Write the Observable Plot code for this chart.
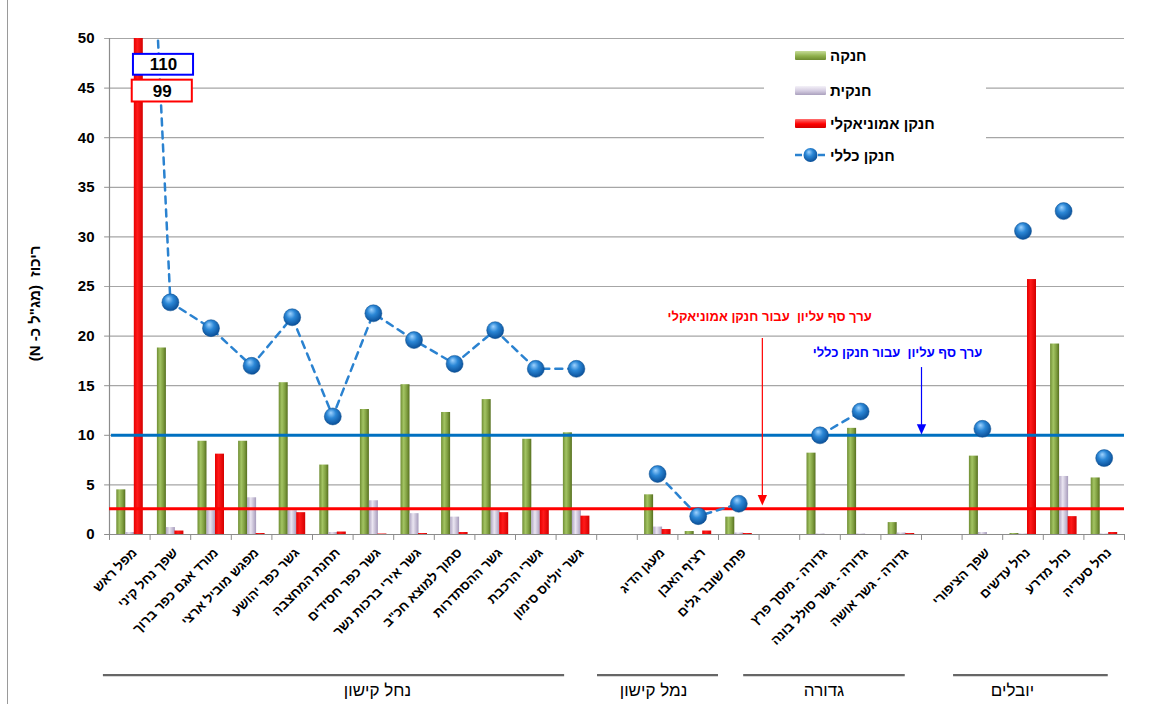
<!DOCTYPE html>
<html><head><meta charset="utf-8">
<script src="https://cdn.jsdelivr.net/npm/d3@7"></script>
<script src="https://cdn.jsdelivr.net/npm/@observablehq/plot@0.6"></script>
<style>
body{margin:0;background:#fff;}
#wrap{position:relative;width:1154px;height:704px;overflow:hidden;font-family:"Liberation Sans",Arial,"DejaVu Sans",sans-serif;background:#fff;}
#wrap svg{position:absolute;left:0;top:0;}
#frameL{position:absolute;left:7px;top:0;width:1px;height:704px;background:#9a9a9a;}
#legend{position:absolute;left:764px;top:42px;width:222px;height:130px;background:#fff;}
.li{position:absolute;left:31px;height:22px;display:flex;align-items:center;font-weight:bold;font-size:15px;color:#000;white-space:nowrap;}
.sw{width:31px;height:9px;margin-right:4px;border-radius:1px;}
</style></head><body><div id="wrap"><div id="frameL"></div></div>
<script>
// ---- data ----
const categories = ["מפל ראש","שפך נחל קיני","מורד אגם כפר ברוך","מפגש מוביל ארצי","גשר כפר יהושע","תחנת המחצבה","גשר כפר חסידים","גשר אירי ברכות נשר","סמוך למוצא חכ\"ב","גשר ההסתדרות","גשרי הרכבת","גשר יוליוס סימון","","מעגן הדיג","רציף האבן","פתח שובר גלים","","גדורה - מוסך פרץ","גדורה - גשר סולל בונה","גדורה - גשר אושה","","שפך הציפורי","נחל עדשים","נחל מדרע","נחל סעדיה"];
const nitrate  = [4.5,18.8,9.4,9.4,15.3,7.0,12.6,15.1,12.3,13.6,9.6,10.25,null,4.0,0.3,1.75,null,8.2,10.7,1.2,null,7.9,0.1,19.2,5.7];
const nitrite  = [0.2,0.7,2.4,3.7,2.4,0.2,3.4,2.1,1.75,2.4,2.4,2.4,null,0.75,0,0.15,null,0.05,0.05,0.15,null,0.2,0.05,5.85,0.05];
const ammonia  = [99,0.35,8.1,0.1,2.2,0.25,0.05,0.1,0.2,2.2,2.5,1.85,null,0.5,0.35,0.1,null,0,0,0.1,null,0,25.7,1.8,0.2];
const totalN   = [110,23.4,20.8,17.0,21.9,11.9,22.3,19.6,17.2,20.6,16.7,16.7,null,6.1,1.85,3.1,null,10.0,12.4,null,null,10.65,30.6,32.6,7.7];
const seriesNames = ["חנקה","חנקית","חנקן אמוניאקלי","חנקן כללי"];
const yTicks = [0,5,10,15,20,25,30,35,40,45,50];
const thresholdTotal = 10;
const thresholdAmmonia = 2.6;
const groups = [
  {name:"נחל קישון", first:0, last:11, connected:true},
  {name:"נמל קישון", first:13, last:15, connected:true},
  {name:"גדורה", first:17, last:19, connected:true},
  {name:"יובלים", first:21, last:24, connected:false}
];
const yTitle = "ריכוז  (מג\"ל כ- N)";
const redNote = "ערך סף עליון  עבור חנקן אמוניאקלי";
const blueNote = "ערך סף עליון  עבור חנקן כללי";

// ---- layout helpers (slot units) ----
const groupLines = [{from:-0.15,to:11.21,label:6.6},{from:12.02,to:15.0,label:13.4},{from:15.62,to:19.6,label:17.6},{from:20.79,to:24.6,label:22.24}];
const n = categories.length;
const idx = d3.range(n);
const has = a => idx.filter(i => a[i] != null);
const lineData = groups.filter(g => g.connected).flatMap(g =>
  d3.range(g.first, g.last + 1).filter(i => totalN[i] != null).map(i => ({i, v: totalN[i], g: g.name})));
const groupData = groups.map((g, k) => ({...g, x1: groupLines[k].from - 0.5, x2: groupLines[k].to - 0.5, xl: groupLines[k].label - 0.5}));
const triDown = {draw(ctx, size){const h=Math.sqrt(size)*1.3,w=h*0.45;ctx.moveTo(-w,-h/2);ctx.lineTo(w,-h/2);ctx.lineTo(0,h/2);ctx.closePath();}};
const font = "Liberation Sans, Arial, DejaVu Sans, sans-serif";

const plot = Plot.plot({
  width:1154, height:704, marginLeft:109, marginRight:30, marginTop:38, marginBottom:170,
  x:{domain:[-0.5, n - 0.5], axis:null},
  y:{domain:[0,50], axis:null},
  style:{fontFamily:font, background:"transparent", overflow:"visible"},
  marks:[
    Plot.ruleY(yTicks.slice(1), {x1:-0.62, x2:n-0.5, stroke:"#a6a6a6", strokeWidth:1.2}),
    Plot.ruleX([-0.5], {y1:0, y2:50, stroke:"#8c8c8c", strokeWidth:1.2}),
    Plot.ruleY([0], {x1:-0.62, x2:n-0.5, stroke:"#8c8c8c", strokeWidth:1.2}),
    Plot.ruleX(d3.range(-0.5, n, 1), {y1:0, y2:-0.6, stroke:"#8c8c8c"}),
    Plot.text(yTicks, {x:-0.5, y:d=>d, text:d=>String(d), dx:-15, textAnchor:"end", fontSize:15, fontWeight:"bold", fill:"#000"}),
    Plot.text([yTitle], {x:-0.5, y:23.3, text:d=>d, dx:-74, rotate:-90, fontSize:15, fontWeight:"bold", fill:"#000"}),
    Plot.text(idx, {x:i=>i, y:0, text:i=>categories[i], rotate:-45, textAnchor:"end", dx:5, dy:16, fontSize:13, fontWeight:"bold", fill:"#000"}),
    // bars
    Plot.rect(has(nitrate), {x1:i=>i-0.5, x2:i=>i+0.5, y1:0, y2:i=>nitrate[i], insetLeft:7.3, insetRight:24.3, fill:"url(#gGreen)", clip:true}),
    Plot.rect(has(nitrite), {x1:i=>i-0.5, x2:i=>i+0.5, y1:0, y2:i=>nitrite[i], insetLeft:16.3, insetRight:15.3, fill:"url(#gLav)", clip:true}),
    Plot.rect(has(ammonia), {x1:i=>i-0.5, x2:i=>i+0.5, y1:0, y2:i=>ammonia[i], insetLeft:24.8, insetRight:6.8, fill:"url(#gRed)", clip:true}),
    // thresholds
    Plot.ruleY([thresholdTotal], {x1:-0.45, x2:n-0.5, stroke:"#0070c0", strokeWidth:3}),
    Plot.ruleY([thresholdAmmonia], {x1:-0.5, x2:n-0.5, stroke:"#ff0000", strokeWidth:3}),
    // total N
    Plot.line(lineData, {x:"i", y:"v", z:"g", stroke:"#2a82d0", strokeWidth:2.5, strokeDasharray:"7,6", clip:true}),
    Plot.dot(has(totalN), {x:i=>i, y:i=>totalN[i], r:8.5, fill:"url(#gBall)", stroke:"#0d4f8f", strokeWidth:0.5, clip:true}),
    // notes
    Plot.ruleX([15.58], {y1:19.76, y2:3.6, stroke:"#ff0000", strokeWidth:1.2}),
    Plot.dot([15.58], {x:d=>d, y:3.45, symbol:triDown, r:4.5, fill:"#ff0000", stroke:"none"}),
    Plot.ruleX([19.5], {y1:16.83, y2:11, stroke:"#0000ff", strokeWidth:1.2}),
    Plot.dot([19.5], {x:d=>d, y:10.6, symbol:triDown, r:4.5, fill:"#0000ff", stroke:"none"}),
    Plot.text([redNote], {x:15.76, y:21.98, text:d=>d, fill:"#ff0000", fontSize:13, fontWeight:"bold"}),
    Plot.text([blueNote], {x:18.91, y:18.35, text:d=>d, fill:"#0000ff", fontSize:13, fontWeight:"bold"}),
    // clipped value boxes
    Plot.rect([totalN[0]], {x1:0.09, x2:1.57, y1:46.3, y2:48.4, fill:"#fff", stroke:"#0000ff", strokeWidth:2}),
    Plot.text([totalN[0]], {x:0.83, y:47.35, text:d=>String(d), fontSize:17, fontWeight:"bold", fill:"#000"}),
    Plot.rect([ammonia[0]], {x1:0.06, x2:1.54, y1:43.6, y2:45.8, fill:"#fff", stroke:"#ff0000", strokeWidth:2}),
    Plot.text([ammonia[0]], {x:0.8, y:44.7, text:d=>String(d), fontSize:17, fontWeight:"bold", fill:"#000"}),
    // group brackets
    Plot.ruleY(groupData, {x1:"x1", x2:"x2", y:0, dy:140.6, stroke:"#666", strokeWidth:2.2}),
    Plot.text(groupData, {x:"xl", y:0, dy:156, text:"name", fontSize:17, fill:"#000", fontFamily:"Liberation Sans Narrow, Arial Narrow, Liberation Sans, sans-serif"})
  ]
});

d3.select(plot).insert("defs", ":first-child").html(`
  <linearGradient id="gGreen" x1="0" x2="1" y1="0" y2="0">
    <stop offset="0" stop-color="#6f8d33"/><stop offset="0.35" stop-color="#a3c463"/><stop offset="0.7" stop-color="#7f9e40"/><stop offset="1" stop-color="#56701f"/>
  </linearGradient>
  <linearGradient id="gLav" x1="0" x2="1" y1="0" y2="0">
    <stop offset="0" stop-color="#b0a6c3"/><stop offset="0.4" stop-color="#eae5f1"/><stop offset="1" stop-color="#a69bbb"/>
  </linearGradient>
  <linearGradient id="gRed" x1="0" x2="1" y1="0" y2="0">
    <stop offset="0" stop-color="#e60000"/><stop offset="0.4" stop-color="#ff1a1a"/><stop offset="1" stop-color="#d40000"/>
  </linearGradient>
  <radialGradient id="gBall" cx="0.45" cy="0.4" r="0.6" fx="0.38" fy="0.28">
    <stop offset="0" stop-color="#9fd3ff"/><stop offset="0.45" stop-color="#2b87d6"/><stop offset="1" stop-color="#0a4f98"/>
  </radialGradient>`);

// right-to-left base direction for the axis title (centred text)
d3.select(plot).selectAll("text").filter(function(){ return this.textContent === yTitle; })
  .attr("direction", "rtl").attr("unicode-bidi", "embed");

const wrap = document.getElementById("wrap");
wrap.appendChild(plot);

// legend (HTML overlay)
const legend = document.createElement("div");
legend.id = "legend";
const rows = [
  {top:2, sw:"linear-gradient(#c6dc98,#8fb04c 55%,#6d8a30)"},
  {top:37, sw:"linear-gradient(#f4f1f8,#d3cbe0 55%,#aaa0bd)"},
  {top:70, sw:"linear-gradient(#ff7070,#ff0000 55%,#d00000)"},
  {top:102, sw:null}
];
rows.forEach((r, k) => {
  const d = document.createElement("div");
  d.className = "li"; d.style.top = r.top + "px";
  if (r.sw) {
    d.innerHTML = `<div class="sw" style="background:${r.sw}"></div><span>${seriesNames[k]}</span>`;
  } else {
    d.innerHTML = `<svg width="31" height="18" style="position:static;margin-right:4px"><defs><radialGradient id="lgBall" cx="0.45" cy="0.4" r="0.6" fx="0.38" fy="0.28"><stop offset="0" stop-color="#9fd3ff"/><stop offset="0.45" stop-color="#2b87d6"/><stop offset="1" stop-color="#0a4f98"/></radialGradient></defs><line x1="0" x2="31" y1="9" y2="9" stroke="#2a82d0" stroke-width="2.5" stroke-dasharray="7,16"/><circle cx="15.5" cy="9" r="7" fill="url(#lgBall)"/></svg><span>${seriesNames[k]}</span>`;
  }
  legend.appendChild(d);
});
wrap.appendChild(legend);
</script></body></html>
